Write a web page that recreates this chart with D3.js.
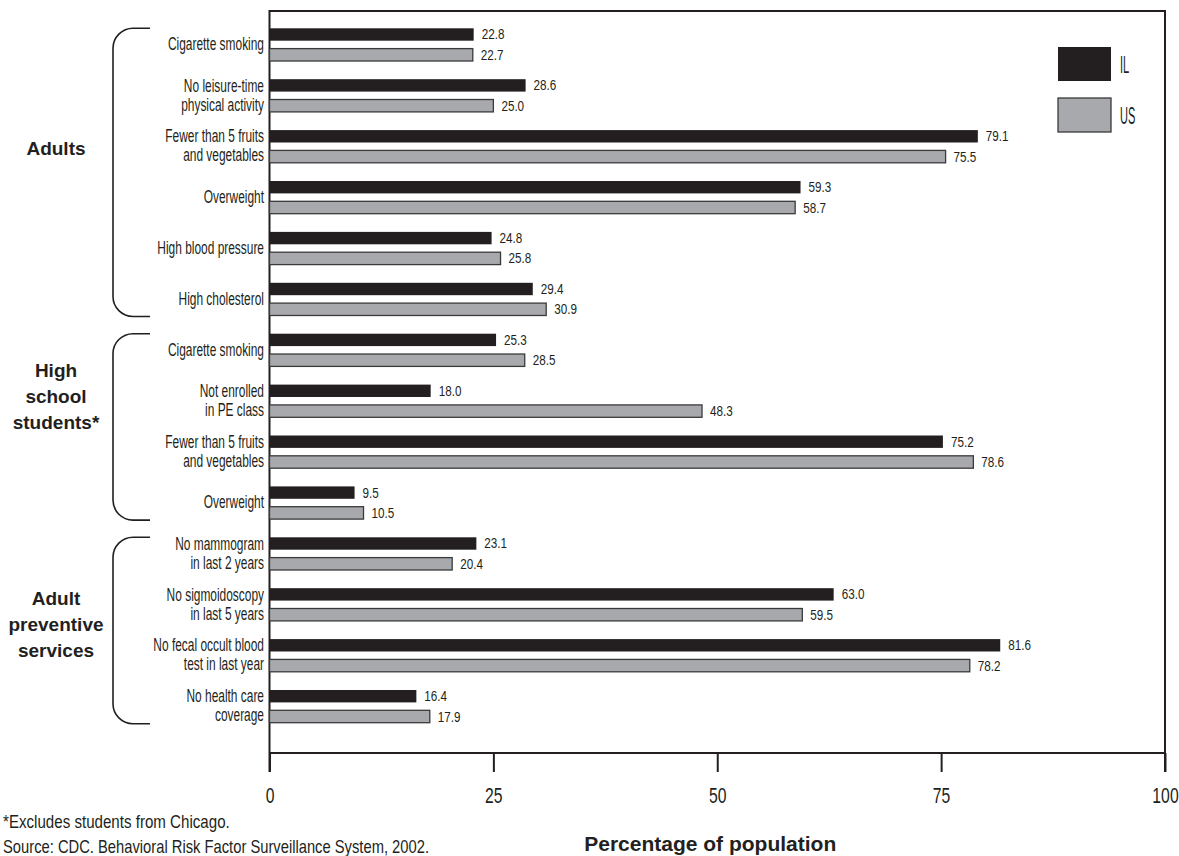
<!DOCTYPE html>
<html>
<head>
<meta charset="utf-8">
<script src="https://cdn.jsdelivr.net/npm/d3@7"></script>
<style>
  html, body { margin: 0; padding: 0; background: #ffffff; }
  svg { display: block; }
</style>
</head>
<body>
<svg id="chart" width="1179" height="856"></svg>
<script>
// ---------------- DATA ----------------
const categories = [
  "Cigarette smoking",
  "No leisure-time\nphysical activity",
  "Fewer than 5 fruits\nand vegetables",
  "Overweight",
  "High blood pressure",
  "High cholesterol",
  "Cigarette smoking",
  "Not enrolled\nin PE class",
  "Fewer than 5 fruits\nand vegetables",
  "Overweight",
  "No mammogram\nin last 2 years",
  "No sigmoidoscopy\nin last 5 years",
  "No fecal occult blood\ntest in last year",
  "No health care\ncoverage"
];
const ilValues = [22.8, 28.6, 79.1, 59.3, 24.8, 29.4, 25.3, 18.0, 75.2, 9.5, 23.1, 63.0, 81.6, 16.4];
const usValues = [22.7, 25.0, 75.5, 58.7, 25.8, 30.9, 28.5, 48.3, 78.6, 10.5, 20.4, 59.5, 78.2, 17.9];
const seriesNames = ["IL", "US"];
const groupNames = ["Adults", "High\nschool\nstudents*", "Adult\npreventive\nservices"];
const groupStart = [0, 6, 10];
const groupEnd = [5, 9, 13];
const xTicks = [0, 25, 50, 75, 100];
const xTitle = "Percentage of population";
const footnote = "*Excludes students from Chicago.";
const source = "Source: CDC. Behavioral Risk Factor Surveillance System, 2002.";

// ---------------- STYLE ----------------
const ink = "#231f20";
const colors = { IL: "#231f20", US: "#a7a9ac" };
const light = "'Liberation Sans', Arial, sans-serif";
const bold = "'Liberation Sans', Arial, sans-serif";

const svg = d3.select("#chart");

const rows = categories.map((c, i) => ({ id: i, label: c, IL: ilValues[i], US: usValues[i] }));

const plotTop = 11, axisY = 753;
const x = d3.scaleLinear().domain([0, 100]).range([269.5, 1165]);
const y = d3.scaleBand().domain(rows.map(d => d.id)).range([19.2, 731.8]).paddingInner(0).paddingOuter(0);
const bw = y.bandwidth();
const inner = d3.scaleBand().domain(seriesNames).range([bw / 2 - 16.35, bw / 2 + 16.35]).paddingInner(0.39);
const barH = inner.bandwidth();

// ---------------- FRAME ----------------
const frame = svg.append("g").attr("fill", "none").attr("stroke", ink).attr("stroke-width", 2);
frame.append("path").attr("d", `M${x(0)},${axisY + 19} V${plotTop} H${x(100)} V${axisY + 19}`);
frame.append("line").attr("x1", x(0)).attr("x2", x(100)).attr("y1", axisY).attr("y2", axisY);

// axis via d3
const axisG = svg.append("g").attr("transform", `translate(0,${axisY})`)
  .call(d3.axisBottom(x).tickValues(xTicks).tickSize(19).tickPadding(0).tickFormat(d3.format("d")));
axisG.select(".domain").remove();
axisG.selectAll(".tick line").attr("stroke", ink).attr("stroke-width", 2);
axisG.selectAll(".tick text").remove();
axisG.selectAll(".tick").append("text")
  .attr("transform", "translate(0,50) scale(0.7,1)")
  .attr("text-anchor", "middle")
  .attr("font-family", light).attr("font-size", 22.5).attr("fill", ink)
  .text(d => d);

// ---------------- BARS ----------------
const rowG = svg.append("g").selectAll("g").data(rows).join("g")
  .attr("transform", d => `translate(0,${y(d.id)})`);

seriesNames.forEach(s => {
  rowG.append("rect")
    .attr("x", x(0))
    .attr("y", inner(s))
    .attr("width", d => x(d[s]) - x(0))
    .attr("height", barH)
    .attr("fill", colors[s])
    .attr("stroke", s === "US" ? "#3a3a3a" : "none")
    .attr("stroke-width", 1.3);
  rowG.append("text")
    .attr("transform", d => `translate(${x(d[s]) + 8},${inner(s) + barH / 2 + 5}) scale(0.78,1)`)
    .attr("font-family", light).attr("font-size", 15).attr("fill", ink)
    .text(d => d3.format(".1f")(d[s]));
});

// category labels
const lineH = 19;
rowG.each(function (d) {
  const lines = d.label.split("\n");
  const g = d3.select(this);
  const c = bw / 2;
  lines.forEach((ln, k) => {
    const yy = c + 5.5 + (k - (lines.length - 1) / 2) * lineH;
    g.append("text")
      .attr("transform", `translate(264,${yy}) scale(0.645,1)`)
      .attr("text-anchor", "end")
      .attr("font-family", light).attr("font-size", 18.5).attr("fill", ink)
      .text(ln);
  });
});

// ---------------- GROUP BRACKETS ----------------
const bx = 113, bEnd = 150, r = 20;
const groupLabelOffsets = [110, 27, 51];
groupNames.forEach((name, gi) => {
  const top = y(groupStart[gi]) + inner("IL");
  const bottom = y(groupEnd[gi]) + inner("US") + barH + 1;
  svg.append("path")
    .attr("d", `M${bEnd},${top} H${bx + r} A${r},${r} 0 0 0 ${bx},${top + r} V${bottom - r} A${r},${r} 0 0 0 ${bx + r},${bottom} H${bEnd}`)
    .attr("fill", "none").attr("stroke", ink).attr("stroke-width", 1.6);
  const lines = name.split("\n");
  const base = y(groupStart[gi]) + bw / 2 + groupLabelOffsets[gi];
  lines.forEach((ln, k) => {
    svg.append("text")
      .attr("x", 56).attr("y", base + k * 26)
      .attr("text-anchor", "middle")
      .attr("font-family", bold).attr("font-weight", "bold").attr("font-size", 19).attr("fill", ink)
      .text(ln);
  });
});

// ---------------- LEGEND ----------------
const legend = svg.append("g").attr("transform", "translate(1058,47)");
seriesNames.forEach((s, i) => {
  legend.append("rect")
    .attr("x", 0).attr("y", i * 51).attr("width", 53).attr("height", 34)
    .attr("fill", colors[s]).attr("stroke", s === "US" ? "#3a3a3a" : "none").attr("stroke-width", 1.3);
  legend.append("text")
    .attr("transform", `translate(62,${i * 51 + 26}) scale(0.46,1)`)
    .attr("font-family", light).attr("font-size", 24).attr("fill", ink)
    .text(s);
});

// ---------------- TITLE & NOTES ----------------
svg.append("text")
  .attr("x", x(50) - 7).attr("y", 851)
  .attr("text-anchor", "middle")
  .attr("font-family", bold).attr("font-weight", "bold").attr("font-size", 21).attr("fill", ink)
  .text(xTitle);
svg.append("text")
  .attr("transform", "translate(3,828) scale(0.84,1)")
  .attr("font-family", light).attr("font-size", 18).attr("fill", ink)
  .text(footnote);
svg.append("text")
  .attr("transform", "translate(3,853) scale(0.82,1)")
  .attr("font-family", light).attr("font-size", 18).attr("fill", ink)
  .text(source);
</script>
</body>
</html>
